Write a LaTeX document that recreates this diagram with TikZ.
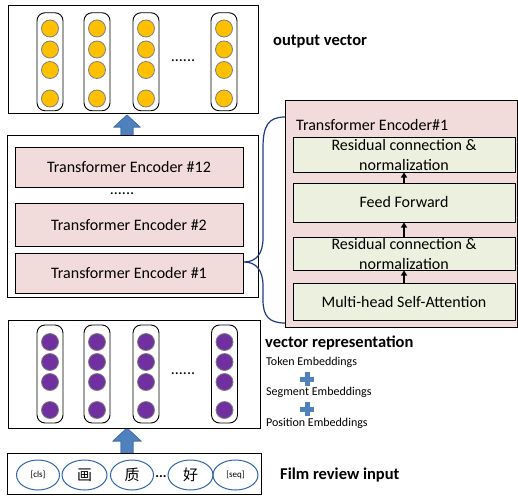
\documentclass[tikz,border=0pt]{standalone}
\usepackage{fontspec}
\setmainfont{Carlito}
\newfontfamily\cjk{Noto Sans CJK SC}
\usetikzlibrary{arrows.meta,shapes.geometric}
\definecolor{orangeC}{HTML}{FFC000}
\definecolor{purpleC}{HTML}{7030A0}
\definecolor{pinkC}{HTML}{F2DCDB}
\definecolor{greenC}{HTML}{EBF1DE}
\definecolor{arrowC}{HTML}{4F81BD}
\definecolor{arrowE}{HTML}{3E6FA8}
\definecolor{ellC}{HTML}{2E66AA}
\definecolor{braceC}{HTML}{1F3A80}
\begin{document}
\begin{tikzpicture}[x=1pt,y=-1pt,
  frame/.style={draw=black, line width=1pt, fill=white, inner sep=0pt},
  pill/.style={draw=black, line width=0.9pt, rounded corners=8pt, minimum width=26pt, minimum height=98pt, inner sep=0pt},
  ocirc/.style={circle, draw=gray, line width=0.8pt, fill=orangeC, minimum size=17pt, inner sep=0pt},
  pcirc/.style={circle, draw=gray, line width=0.8pt, fill=purpleC, minimum size=17pt, inner sep=0pt},
  encbox/.style={draw=black, line width=1pt, fill=pinkC, minimum width=228pt, inner sep=0pt, font=\fontsize{16}{19}\selectfont},
  gbox/.style={draw=black, line width=1pt, fill=greenC, minimum width=222pt, inner sep=0pt},
  gtext/.style={align=center, inner sep=0pt, font=\fontsize{16}{20}\selectfont},
  ell/.style={ellipse, draw=ellC, line width=1pt, minimum width=43pt, minimum height=30pt, inner sep=0pt},
  bigarrow/.style={fill=arrowC, draw=arrowE, line width=0.6pt},
  smallarr/.style={-{Triangle[length=5pt,width=6pt]}, line width=1.1pt},
  boldlab/.style={anchor=west, inner sep=0pt, font=\fontsize{16.5}{19}\selectfont\bfseries},
  emblab/.style={anchor=west, inner sep=0pt, font=\fontsize{12}{14}\selectfont},
  dots/.style={inner sep=0pt, font=\fontsize{16}{16}\selectfont}]
\useasboundingbox (0,0) rectangle (518,495);

% big block arrows (drawn first, boxes cover their feet)
\fill[bigarrow] (121,135) -- (121,127) -- (114,127) -- (127,115) -- (140,127) -- (133,127) -- (133,135) -- cycle;
\fill[bigarrow] (121,453) -- (121,441) -- (113,441) -- (127,428) -- (141,441) -- (133,441) -- (133,453) -- cycle;
\draw[bigarrow] (121,135) -- (121,127) -- (114,127) -- (127,115) -- (140,127) -- (133,127) -- (133,135);
\draw[bigarrow] (121,453) -- (121,441) -- (113,441) -- (127,428) -- (141,441) -- (133,441) -- (133,453);

% output vector box
\node[frame, minimum width=250pt, minimum height=107pt] (outbox) at (133,59.5) {};
\foreach \cx/\k in {50/1,97/2,146/3,224/4}{
  \node[pill] (op\k) at (\cx,61.75) {};
  \foreach \cy/\j in {28.5/a,49.5/b,70/c,98.5/d}
    \node[ocirc] (oc\k\j) at (\cx,\cy) {};
}
\node[dots] (odots) at (183,61) {......};
\node[boldlab] (outlab) at (273,42) {output vector};

% encoder stack
\node[frame, minimum width=251pt, minimum height=162pt] (midbox) at (132.5,216) {};
\node[encbox, minimum height=40pt] (enc12) at (129,167) {Transformer Encoder \#12};
\node[dots] (edots) at (122,194) {......};
\node[encbox, minimum height=43pt] (enc2) at (129,224.5) {Transformer Encoder \#2};
\node[encbox, minimum height=40pt] (enc1) at (129,273) {Transformer Encoder \#1};

% detail panel
\node[draw=black, line width=1pt, fill=pinkC, minimum width=232pt, minimum height=227pt, inner sep=0pt] (panel) at (401,213.5) {};
\node[anchor=west, inner sep=0pt, font=\fontsize{16}{19}\selectfont] (ptitle) at (296,125) {Transformer Encoder\#1};
\node[gbox, minimum height=35pt] (g1) at (404,154.5) {};
\node[gtext] (g1t) at (404,155) {Residual connection \&\\normalization};
\node[gbox, minimum height=39pt] (g2) at (404,202.5) {};
\node[gtext] (g2t) at (404,202.5) {Feed Forward};
\node[gbox, minimum height=33pt] (g3) at (404,253.5) {};
\node[gtext] (g3t) at (404,254) {Residual connection \&\\normalization};
\node[gbox, minimum height=37pt] (g4) at (404,301.5) {};
\node[gtext] (g4t) at (404,301.5) {Multi-head Self-Attention};
\draw[smallarr] (g4) -- (g3);
\draw[smallarr] (g3) -- (g2);
\draw[smallarr] (g2) -- (g1);

% brace
\coordinate (btop) at (285,117);
\coordinate (bbot) at (285,323);
\coordinate (btip) at (244,262);
\draw[braceC, line width=1.2pt] (btop) .. controls (268,117) and (263,126) .. (263,148)
  -- (263,238) .. controls (263,254) and (256,262) .. (btip)
  .. controls (256,262) and (263,270) .. (263,286)
  -- (263,300) .. controls (263,316) and (269,323) .. (bbot);

% vector representation box
\node[frame, minimum width=252pt, minimum height=108pt] (vecbox) at (134,374) {};
\foreach \cx/\k in {50/1,97/2,146/3,224.5/4}{
  \node[pill] (vp\k) at (\cx,374) {};
  \foreach \cy/\j in {342/a,362/b,382/c,410/d}
    \node[pcirc] (vc\k\j) at (\cx,\cy) {};
}
\node[dots] (vdots) at (183,374) {......};
\node[boldlab] (veclab) at (265,343) {vector representation};
\node[emblab] (tok) at (266,362) {Token Embeddings};
\node[emblab] (seg) at (266,392) {Segment Embeddings};
\node[emblab] (pos) at (266,423) {Position Embeddings};
\foreach \py/\n in {379/p1,409/p2}{
  \coordinate (\n) at (307,\py);
  \fill[arrowC] (300,\py-2.5) rectangle (314,\py+2.5);
  \fill[arrowC] (304.5,\py-7) rectangle (309.5,\py+7);
}

% input box
\node[frame, minimum width=254pt, minimum height=41pt] (inbox) at (134,473.5) {};
\node[ell] (t1) at (38,475) {\fontsize{9}{10}\selectfont [cls]};
\node[ell, minimum width=45pt] (t2) at (84.5,475) {\cjk\fontsize{15}{16}\selectfont 画};
\node[ell] (t3) at (132,475) {\cjk\fontsize{15}{16}\selectfont 质};
\node[inner sep=0pt, font=\fontsize{14}{14}\selectfont\bfseries] (tdots) at (161,477) {...};
\node[ell, minimum width=45pt] (t4) at (190.5,475) {\cjk\fontsize{15}{16}\selectfont 好};
\node[ell, minimum width=45pt] (t5) at (235.5,475) {\fontsize{9}{10}\selectfont [seq]};
\node[boldlab] (inlab) at (280,475) {Film review input};
\end{tikzpicture}
\end{document}
